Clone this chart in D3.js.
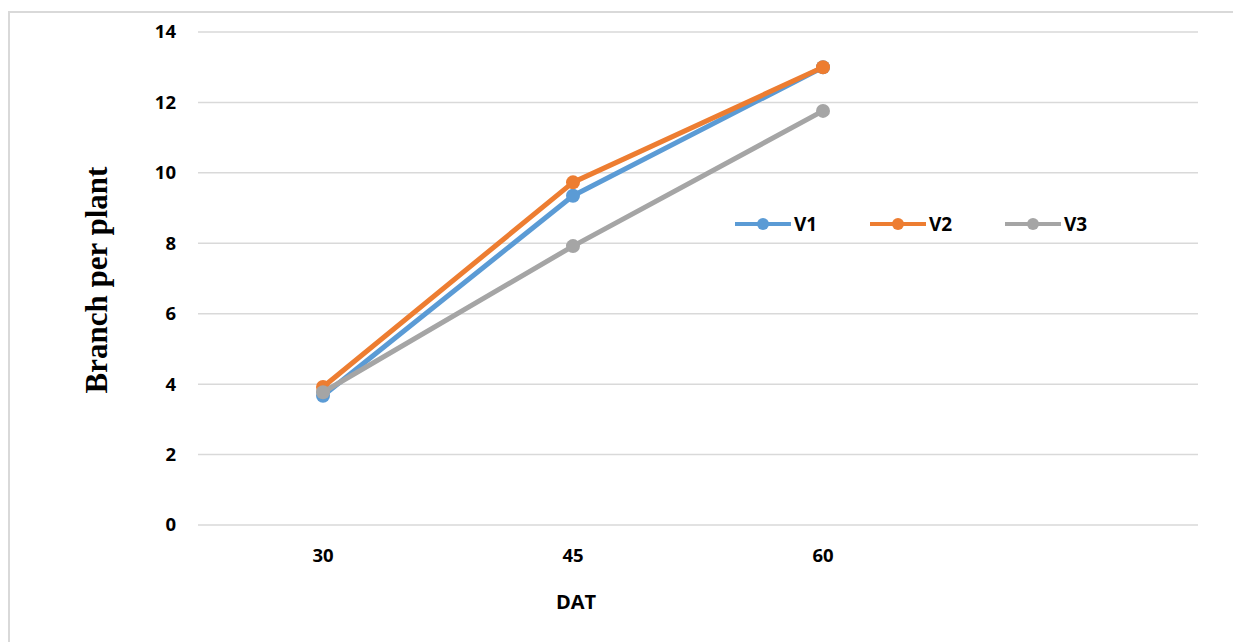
<!DOCTYPE html>
<html>
<head>
<meta charset="utf-8">
<script src="https://cdn.jsdelivr.net/npm/d3@7"></script>
<style>
  body { margin: 0; background: #fff; }
  svg { display: block; }
  .tick text { font-family: "Open Sans", sans-serif; font-weight: bold; font-size: 18.5px; fill: #000; }
</style>
</head>
<body>
<div id="chart-area"></div>
<script>
// chart data
var categories = ["30", "45", "60", ""];
var seriesNames = ["V1", "V2", "V3"];
var v1 = [3.67, 9.35, 13.0];
var v2 = [3.92, 9.73, 13.0];
var v3 = [3.77, 7.92, 11.76];
var yTicks = [0, 2, 4, 6, 8, 10, 12, 14];
var colors = ["#5B9BD5", "#ED7D31", "#A5A5A5"];

var margin = {left: 198, right: 35, top: 32, bottom: 117};
var width = 1233 - margin.left - margin.right;
var height = 642 - margin.top - margin.bottom;

var svg = d3.select("#chart-area")
    .append("svg")
        .attr("width", 1233)
        .attr("height", 642);

// outer chart border
svg.append("rect")
    .attr("x", 9)
    .attr("y", 12)
    .attr("width", 1240)
    .attr("height", 660)
    .attr("fill", "none")
    .attr("stroke", "#d9d9d9")
    .attr("stroke-width", 2);

var g = svg.append("g")
    .attr("transform", "translate(" + margin.left + "," + margin.top + ")");

var x = d3.scaleBand()
    .domain(categories)
    .range([0, width]);

var y = d3.scaleLinear()
    .domain([0, 14])
    .range([height, 0]);

// grid lines
g.append("g")
    .selectAll("line")
    .data(yTicks)
    .enter()
    .append("line")
        .attr("x1", 0)
        .attr("x2", width)
        .attr("y1", function(d){ return y(d); })
        .attr("y2", function(d){ return y(d); })
        .attr("stroke", "#d9d9d9")
        .attr("stroke-width", 1.5);

// y axis
var yAxisGroup = g.append("g")
    .call(d3.axisLeft(y).tickValues(yTicks).tickSize(0).tickPadding(22));
yAxisGroup.select(".domain").remove();

// x axis
var xAxisGroup = g.append("g")
    .attr("transform", "translate(0," + height + ")")
    .call(d3.axisBottom(x).tickSize(0).tickPadding(24));
xAxisGroup.select(".domain").remove();

// axis titles
g.append("text")
    .attr("x", x("45") + x.bandwidth() / 2 + 3)
    .attr("y", height + 84)
    .attr("text-anchor", "middle")
    .attr("font-family", "'Open Sans', sans-serif")
    .attr("font-weight", "bold")
    .attr("font-size", "20px")
    .text("DAT");

svg.append("text")
    .attr("transform", "translate(107," + 280 + ") rotate(-90)")
    .attr("text-anchor", "middle")
    .attr("font-family", "'Liberation Serif', 'Times New Roman', serif")
    .attr("font-weight", "bold")
    .attr("font-size", "31px")
    .text("Branch per plant");

// lines + markers
var allSeries = [v1, v2, v3];
var line = d3.line()
    .x(function(d, i){ return x(categories[i]) + x.bandwidth() / 2; })
    .y(function(d){ return y(d); });

allSeries.forEach(function(values, s){
    g.append("path")
        .datum(values)
        .attr("fill", "none")
        .attr("stroke", colors[s])
        .attr("stroke-width", 5)
        .attr("stroke-linejoin", "round")
        .attr("d", line);

    g.selectAll(".dot" + s)
        .data(values)
        .enter()
        .append("circle")
            .attr("class", "dot" + s)
            .attr("cx", function(d, i){ return x(categories[i]) + x.bandwidth() / 2; })
            .attr("cy", function(d){ return y(d); })
            .attr("r", 7)
            .attr("fill", colors[s]);
});

// legend
var legend = svg.append("g")
    .attr("transform", "translate(735,224)");

seriesNames.forEach(function(name, i){
    var lg = legend.append("g")
        .attr("transform", "translate(" + (i * 135) + ",0)");
    lg.append("line")
        .attr("x1", 0)
        .attr("x2", 56)
        .attr("y1", 0)
        .attr("y2", 0)
        .attr("stroke", colors[i])
        .attr("stroke-width", 4);
    lg.append("circle")
        .attr("cx", 28)
        .attr("cy", 0)
        .attr("r", 6)
        .attr("fill", colors[i]);
    lg.append("text")
        .attr("x", 59)
        .attr("y", 7)
        .attr("font-family", "'Open Sans', sans-serif")
        .attr("font-weight", "bold")
        .attr("font-size", "19px")
        .text(name);
});
</script>
</body>
</html>
